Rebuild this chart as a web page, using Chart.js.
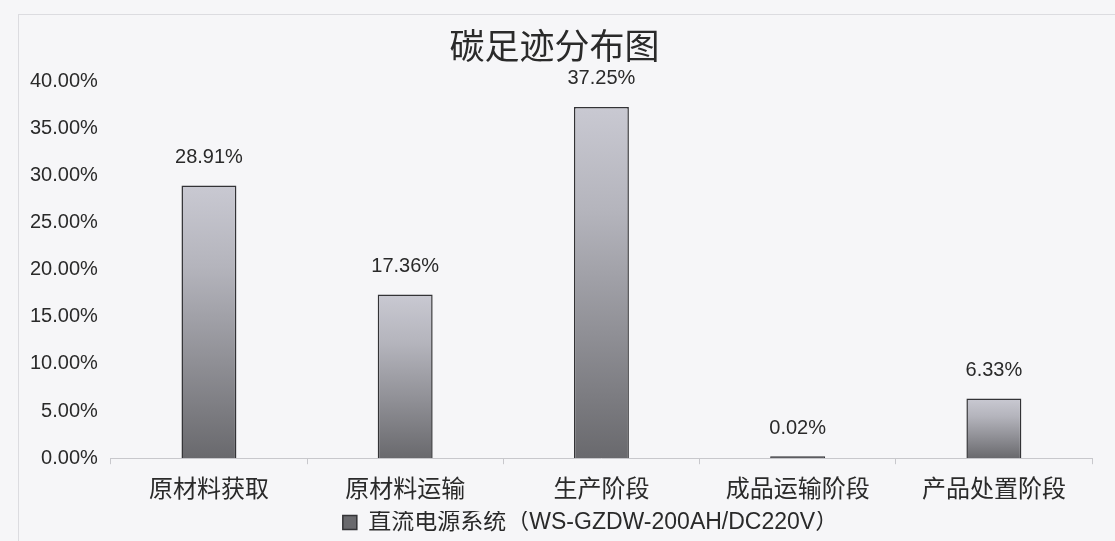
<!DOCTYPE html>
<html><head><meta charset="utf-8">
<script src="https://cdn.jsdelivr.net/npm/chart.js@4"></script>
<style>html,body{margin:0;padding:0;background:#f6f6f8;}#wrap{width:1115px;height:541px;}</style>
</head><body><div id="wrap"><canvas id="c" width="1115" height="541"></canvas></div>
<script>
const categories = ['原材料获取', '原材料运输', '生产阶段', '成品运输阶段', '产品处置阶段'];
const values = [28.91, 17.36, 37.25, 0.02, 6.33];
const seriesName = '直流电源系统（WS-GZDW-200AH/DC220V）';
const chartTitle = '碳足迹分布图';
const yMax = 40, yStep = 5;

const FONT = "'Liberation Sans', 'Noto Sans CJK SC', sans-serif";
const CJK = "'Noto Sans CJK SC', 'Liberation Sans', sans-serif";

function barFill(ctx) {
  const chart = ctx.chart;
  if (ctx.type !== 'data' || !chart.chartArea) return '#8a8a90';
  const y = chart.scales.y;
  const top = y.getPixelForValue(ctx.raw);
  const bottom = y.getPixelForValue(0);
  if (!(bottom - top > 3)) return '#3a3a3e';
  const g = chart.ctx.createLinearGradient(0, top, 0, bottom);
  g.addColorStop(0, '#c9c9d2');
  g.addColorStop(0.3, '#b4b4bc');
  g.addColorStop(0.65, '#8f8f95');
  g.addColorStop(1, '#69696d');
  return g;
}

const bgPlugin = {
  id: 'bg',
  beforeDraw(chart) {
    const c = chart.ctx;
    c.save();
    c.fillStyle = '#f6f6f8';
    c.fillRect(0, 0, chart.width, chart.height);
    c.strokeStyle = '#dcdce0';
    c.lineWidth = 1;
    c.strokeRect(18.5, 14.5, chart.width - 10, chart.height);
    c.restore();
  }
};

// trim the legend box a little and shift it right, as in the original
const legendTweak = {
  id: 'legendTweak',
  beforeLayout(chart) {
    const lg = chart.legend;
    if (lg && !lg._tweaked) {
      const fit = lg.fit.bind(lg);
      lg.fit = function () { fit(); this.height -= 3; };
      lg._tweaked = true;
    }
  },
  afterLayout(chart) {
    const lg = chart.legend;
    if (!lg) return;
    const dx = 36;
    lg.left += dx; lg.right += dx;
  }
};

const labelPlugin = {
  id: 'vlabels',
  afterDatasetsDraw(chart) {
    const c = chart.ctx;
    const meta = chart.getDatasetMeta(0);
    c.save();
    c.font = '20px ' + FONT;
    c.fillStyle = '#2a2a2a';
    c.textAlign = 'center';
    c.textBaseline = 'middle';
    meta.data.forEach((el, i) => {
      c.fillText(values[i].toFixed(2) + '%', el.x, el.y - 28);
    });
    c.restore();
  }
};

new Chart(document.getElementById('c'), {
  type: 'bar',
  data: {
    labels: categories,
    datasets: [{
      label: seriesName,
      data: values,
      backgroundColor: barFill,
      borderColor: '#333336',
      borderWidth: 1.5,
      minBarLength: 2,
      categoryPercentage: 1,
      barPercentage: 0.28
    }]
  },
  options: {
    responsive: false,
    animation: false,
    layout: { padding: { left: 17, right: 23, top: 0, bottom: 0 } },
    plugins: {
      title: {
        display: true,
        text: chartTitle,
        color: '#2a2a2a',
        font: { family: CJK, size: 35, weight: 'normal' },
        padding: { top: 25, bottom: 14 }
      },
      legend: {
        position: 'bottom',
        labels: {
          color: '#2a2a2a',
          font: { family: FONT, size: 23 },
          boxWidth: 14, boxHeight: 14,
          padding: 0
        }
      },
      tooltip: { enabled: false }
    },
    scales: {
      x: {
        offset: true,
        grid: { display: true, drawOnChartArea: false, drawTicks: true, tickLength: 6, color: '#c8c8cc', offset: true },
        border: { display: true, color: '#c8c8cc' },
        ticks: { color: '#2a2a2a', font: { family: CJK, size: 24 }, padding: 9, maxRotation: 0 }
      },
      y: {
        min: 0, max: yMax,
        grid: { display: false, drawTicks: false },
        border: { display: false },
        ticks: {
          stepSize: yStep,
          color: '#2a2a2a',
          font: { family: FONT, size: 20 },
          padding: 13,
          callback: v => v.toFixed(2) + '%'
        }
      }
    }
  },
  plugins: [bgPlugin, legendTweak, labelPlugin]
});
</script></body></html>
